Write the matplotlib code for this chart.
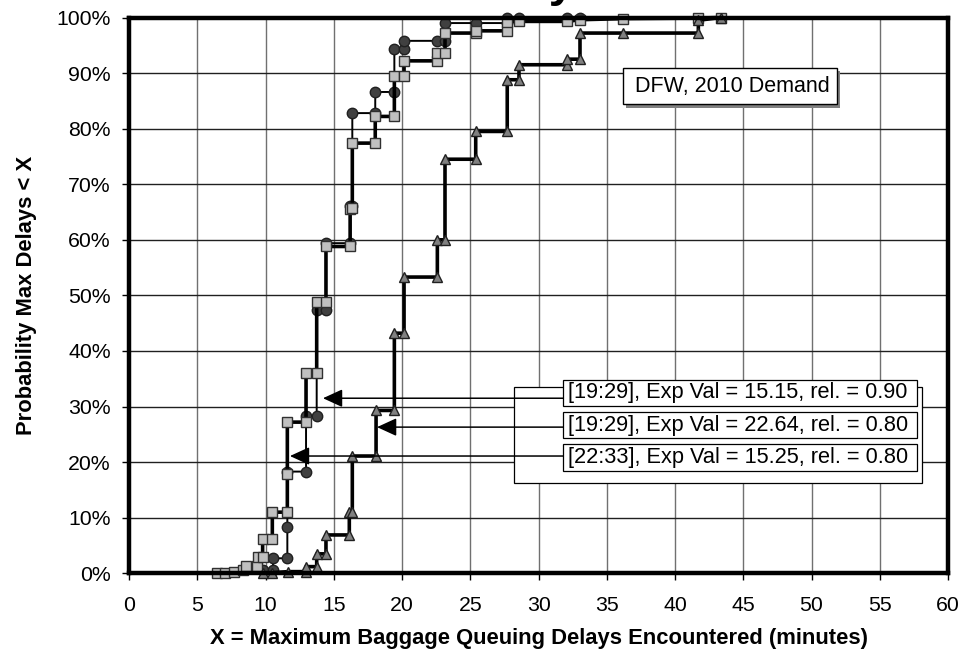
import matplotlib
matplotlib.use("Agg")
import matplotlib.pyplot as plt
from matplotlib.patches import Rectangle, FancyArrowPatch
from matplotlib.ticker import FuncFormatter

plt.rcParams['font.family'] = ['Liberation Sans', 'DejaVu Sans']

# ---- data (minutes, cumulative probability %) ----
sq_x = [6.42, 7.03, 7.71, 8.37, 8.55, 9.40, 9.47, 9.79, 9.79, 10.50, 10.50, 11.60, 11.60, 11.60,
        12.97, 12.97, 13.75, 13.75, 14.43, 14.43, 16.20, 16.20, 16.36, 16.36, 18.04, 18.04,
        19.44, 19.44, 20.15, 20.15, 22.59, 22.59, 23.15, 23.15, 25.40, 25.40, 27.71, 27.71,
        28.57, 32.11, 33.04, 36.21, 41.71, 43.35]
sq_y = [0.1, 0.1, 0.2, 0.6, 1.4, 1.4, 3.0, 3.0, 6.1, 6.1, 11.0, 11.0, 17.9, 27.2,
        27.2, 36.1, 36.1, 48.8, 48.8, 58.8, 58.8, 65.5, 65.8, 77.4, 77.4, 82.2,
        82.2, 89.5, 89.5, 92.2, 92.2, 93.6, 93.6, 97.2, 97.2, 97.6, 97.6, 99.2,
        99.3, 99.3, 99.6, 99.8, 99.9, 100.0]

ci_x = [9.84, 10.53, 10.57, 11.60, 11.60, 11.60, 12.97, 12.97, 13.75, 13.75, 14.43, 14.43,
        16.20, 16.20, 16.36, 16.36, 18.04, 18.04, 19.44, 19.44, 20.15, 20.15, 22.59, 23.15,
        23.15, 25.40, 27.71, 27.71, 28.57, 32.11, 33.04]
ci_y = [0.6, 0.6, 2.7, 2.7, 8.4, 18.3, 18.3, 28.3, 28.3, 47.4, 47.4, 59.4,
        59.4, 66.0, 66.0, 82.8, 82.8, 86.6, 86.6, 94.3, 94.3, 95.8, 95.8, 95.8,
        99.0, 99.0, 99.0, 99.9, 99.9, 100.0, 100.0]

tr_x = [9.84, 10.45, 11.67, 12.97, 12.97, 13.75, 13.75, 14.43, 14.43, 16.14, 16.14, 16.36,
        16.36, 18.10, 18.10, 19.44, 19.44, 20.15, 20.15, 22.59, 22.59, 23.15, 23.15, 25.40,
        25.40, 27.71, 27.71, 28.57, 28.57, 32.11, 32.11, 33.04, 33.04, 36.21, 41.71, 41.71, 43.35]
tr_y = [0.1, 0.1, 0.3, 0.3, 1.2, 1.2, 3.5, 3.5, 6.9, 6.9, 11.0, 11.0,
        21.1, 21.1, 29.3, 29.3, 43.2, 43.2, 53.3, 53.3, 60.0, 60.0, 74.5, 74.5,
        79.5, 79.5, 88.8, 88.8, 91.5, 91.5, 92.5, 92.5, 97.2, 97.2, 97.2, 99.5, 100.0]

labels = ["[19:29], Exp Val = 15.15, rel. = 0.90",
          "[19:29], Exp Val = 22.64, rel. = 0.80",
          "[22:33], Exp Val = 15.25, rel. = 0.80"]
arrow_tips_x = [14.21, 18.17, 11.79]
arrow_tips_y = [31.5, 26.3, 21.1]

x_ticks = list(range(0, 65, 5))
y_ticks = list(range(0, 110, 10))

# ---- figure ----
fig = plt.figure(figsize=(9.61, 6.55), dpi=100)
ax = fig.add_axes([129/961, 1-573.3/655, 819/961, 555.8/655])
ax.set_xlim(0, 60)
ax.set_ylim(0, 100)
ax.set_xticks(x_ticks)
ax.set_yticks(y_ticks)
ax.yaxis.set_major_formatter(FuncFormatter(lambda v, p: f"{int(v)}%"))
ax.tick_params(axis='both', labelsize=15.3, length=5, width=1, direction='out')
ax.tick_params(axis='x', pad=11)
ax.tick_params(axis='y', pad=8)

for v in x_ticks[1:-1]:
    ax.axvline(v, color='#707070', lw=1.0, zorder=1)
for v in y_ticks[1:-1]:
    ax.axhline(v, color='#202020', lw=1.0, zorder=1)

for s in ax.spines.values():
    s.set_linewidth(3.2)
    s.set_zorder(6)

ax.plot(sq_x, sq_y, color='black', lw=2.6, marker='s', ms=7.5, mfc='#c0c0c0', mec='#303030',
        mew=1.0, zorder=4, clip_on=False)
ax.plot(ci_x, ci_y, color='black', lw=1.4, marker='o', ms=7.5, mfc='#404040', mec='#202020',
        mew=1.0, zorder=3, clip_on=False)
ax.plot(tr_x, tr_y, color='black', lw=2.6, marker='^', ms=7.5, mfc='#808080', mec='#202020',
        mew=1.0, zorder=4, clip_on=False)

ax.set_xlabel("X = Maximum Baggage Queuing Delays Encountered (minutes)", fontsize=15.8,
              fontweight='bold', labelpad=10)
ax.set_ylabel("Probability Max Delays < X", fontsize=15.8, fontweight='bold', labelpad=14)

# ---- DFW box ----
tr = ax.transAxes
ax.add_patch(Rectangle((0.607, 0.838), 0.2615, 0.065, transform=tr, facecolor='#808080',
                       edgecolor='none', zorder=7))
ax.add_patch(Rectangle((0.603, 0.844), 0.2615, 0.065, transform=tr, facecolor='white',
                       edgecolor='black', lw=1.0, zorder=8))
ax.text(0.6175, 0.8765, "DFW, 2010 Demand", transform=tr, fontsize=15.5, va='center',
        ha='left', zorder=9)

# ---- annotation legend ----
ax.add_patch(Rectangle((0.470, 0.1625), 0.498, 0.1727, transform=tr, facecolor='white',
                       edgecolor='black', lw=0.9, zorder=7))
box_y = [0.301, 0.2434, 0.184]
box_h = [0.047, 0.0468, 0.0487]
for lab, by, bh, tx, ty in zip(labels, box_y, box_h, arrow_tips_x, arrow_tips_y):
    ax.add_patch(Rectangle((0.5315, by - 0.0025), 0.432, bh, transform=tr, facecolor='#909090',
                           edgecolor='none', zorder=8))
    ax.add_patch(Rectangle((0.530, by), 0.432, bh, transform=tr, facecolor='white',
                           edgecolor='black', lw=0.9, zorder=9))
    ax.text(0.536, by + bh / 2, lab, transform=tr, fontsize=15.7, va='center', ha='left',
            zorder=10)
    arr = FancyArrowPatch((31.8, ty), (tx, ty), arrowstyle='-|>,head_length=1.2,head_width=0.55',
                          mutation_scale=10, color='black', lw=1.1, zorder=8,
                          shrinkA=0, shrinkB=0)
    ax.add_patch(arr)

# ---- clipped title (only its lower edge shows in the reference) ----
fig.text(575/961, 1 + 4/655, "Max Delay", ha='right', va='baseline', fontsize=34,
         fontweight='bold')

fig.savefig("out.png", dpi=100)
